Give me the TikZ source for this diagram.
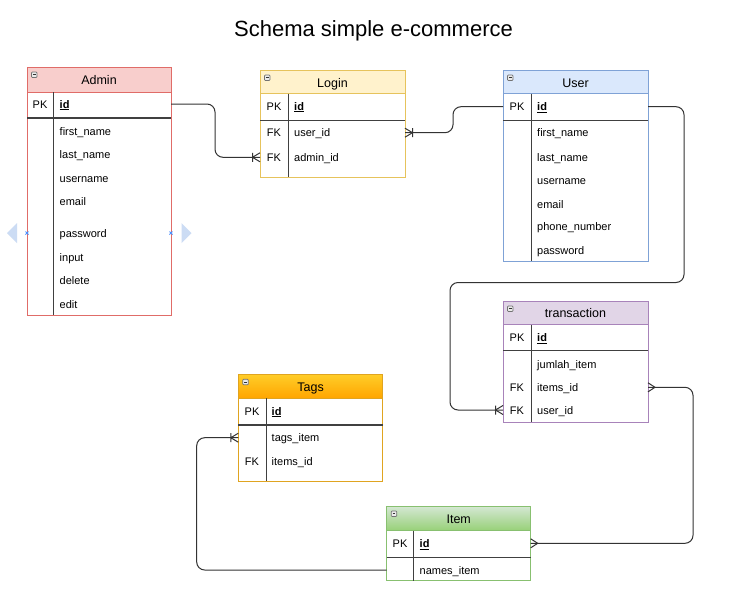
\documentclass[tikz,border=0pt]{standalone}
\usepackage{fontspec}
\setmainfont{Liberation Sans}
\usetikzlibrary{calc}
\definecolor{adminF}{HTML}{F8CECC}\definecolor{adminB}{HTML}{E06C68}
\definecolor{loginF}{HTML}{FFF2CC}\definecolor{loginB}{HTML}{E6C35C}
\definecolor{userF}{HTML}{DAE8FC}\definecolor{userB}{HTML}{7FA2D6}
\definecolor{transF}{HTML}{E1D5E7}\definecolor{transB}{HTML}{A883BA}
\definecolor{tagsT}{HTML}{FFCD28}\definecolor{tagsBo}{HTML}{FFA500}\definecolor{tagsB}{HTML}{E0A420}
\definecolor{itemT}{HTML}{D5E8D4}\definecolor{itemBo}{HTML}{97D077}\definecolor{itemB}{HTML}{88C070}
\definecolor{connC}{HTML}{333333}
\definecolor{artL}{HTML}{CCDCF4}\definecolor{artX}{HTML}{4D90FE}
\tikzset{
  tblbox/.style={rectangle, anchor=north west, fill=white, inner sep=0pt, outer sep=0pt, line width=1pt},
  tblhdr/.style={rectangle, anchor=north west, inner sep=0pt, outer sep=0pt, line width=1pt},
  hdrtxt/.style={inner sep=0pt, font=\fontsize{12.5}{14}\selectfont, text height=9pt, text depth=0pt},
  fld/.style={inner sep=0pt, anchor=west, font=\fontsize{11}{13}\selectfont, text height=8pt, text depth=0pt},
  keytxt/.style={inner sep=0pt, font=\fontsize{11}{13}\selectfont, text height=8pt, text depth=0pt},
  pkline/.style={draw=black!75, line width=1.2pt},
  divline/.style={draw=black!75, line width=1pt},
  conn/.style={draw=connC, line width=1pt, rounded corners=8pt},
  ermark/.style={draw=connC, line width=1pt},
  pics/onemany/.style={code={\draw[ermark] (0,-4.5) -- (7.5,0) -- (0,4.5) (7.5,-4.5) -- (7.5,4.5);}},
  pics/manymark/.style={code={\draw[ermark] (0,-4.5) -- (7,0) -- (0,4.5);}},
  pics/minusicon/.style={code={\draw[fill=black!8, draw=black!55, line width=0.7pt, rounded corners=0.8pt] (4.5,5) rectangle (10,10.5); \draw[line width=1pt, black!80] (5.8,7.75) -- (8.7,7.75);}},
}
\begin{document}
\begin{tikzpicture}[x=1pt, y=-1pt]
\useasboundingbox (0,0) rectangle (741,608);
\fill[white] (0,0) rectangle (741,608);

\node[inner sep=0pt, font=\fontsize{22}{26}\selectfont, text height=16pt, text depth=0pt] (title) at (373.5,28.5) {Schema simple e-commerce};

% ---------- Admin ----------
\node[tblbox, draw=adminB, minimum width=144pt, minimum height=248pt] (admin) at (27,67) {};
\node[tblhdr, fill=adminF, draw=adminB, minimum width=144pt, minimum height=25pt] (adminH) at (27,67) {};
\node[hdrtxt] (adminT) at ($(adminH.center)+(0,0.5)$) {Admin};
\pic at (adminH.north west) {minusicon};
\draw[divline] (53,92) -- (53,315);
\draw[pkline] (27,118) -- (171,118);
\node[keytxt] (akpk) at (40,104) {PK};
\node[fld] (aid) at (59.5,104) {\underline{\textbf{id}}};
\node[fld] (a1) at (59.5,131.5) {first\_name};
\node[fld] (a2) at (59.5,154.5) {last\_name};
\node[fld] (a3) at (59.5,178) {username};
\node[fld] (a4) at (59.5,201) {email};
\node[fld] (a5) at (59.5,233) {password};
\node[fld] (a6) at (59.5,257) {input};
\node[fld] (a7) at (59.5,280.5) {delete};
\node[fld] (a8) at (59.5,304) {edit};

% hover artifacts
\fill[artL] (17,223) -- (7,233) -- (17,243) -- cycle;
\fill[artL] (181.5,223) -- (191.5,233) -- (181.5,243) -- cycle;
\draw[artX, line width=0.8pt] (25.5,231.5) -- (28.5,234.5) (25.5,234.5) -- (28.5,231.5);
\draw[artX, line width=0.8pt] (169.5,231.5) -- (172.5,234.5) (169.5,234.5) -- (172.5,231.5);

% ---------- Login ----------
\node[tblbox, draw=loginB, minimum width=145pt, minimum height=107pt] (login) at (260,70) {};
\node[tblhdr, fill=loginF, draw=loginB, minimum width=145pt, minimum height=23.5pt] (loginH) at (260,70) {};
\node[hdrtxt] (loginT) at ($(loginH.center)+(0,1)$) {Login};
\pic at (loginH.north west) {minusicon};
\draw[divline] (288,93.5) -- (288,177);
\draw[pkline] (260,120.5) -- (405,120.5);
\node[keytxt] (lkpk) at (274,106) {PK};
\node[fld] (lid) at (294,106) {\underline{\textbf{id}}};
\node[keytxt] (lkf1) at (274,132.7) {FK};
\node[fld] (luid) at (294,132.7) {user\_id};
\node[keytxt] (lkf2) at (274,157.3) {FK};
\node[fld] (ladm) at (294,157.3) {admin\_id};

% ---------- User ----------
\node[tblbox, draw=userB, minimum width=145pt, minimum height=191pt] (user) at (503,70) {};
\node[tblhdr, fill=userF, draw=userB, minimum width=145pt, minimum height=23.5pt] (userH) at (503,70) {};
\node[hdrtxt] (userT) at ($(userH.center)+(0,1)$) {User};
\pic at (userH.north west) {minusicon};
\draw[divline] (531,93.5) -- (531,261);
\draw[pkline] (503,120.5) -- (648,120.5);
\node[keytxt] (ukpk) at (517,106.7) {PK};
\node[fld] (uid) at (537,106.7) {\underline{\textbf{id}}};
\node[fld] (u1) at (537,132.7) {first\_name};
\node[fld] (u2) at (537,157.3) {last\_name};
\node[fld] (u3) at (537,180) {username};
\node[fld] (u4) at (537,204) {email};
\node[fld] (u5) at (537,226.7) {phone\_number};
\node[fld] (u6) at (537,250) {password};

% ---------- transaction ----------
\node[tblbox, draw=transB, minimum width=145pt, minimum height=121pt] (trans) at (503,301) {};
\node[tblhdr, fill=transF, draw=transB, minimum width=145pt, minimum height=23.5pt] (transH) at (503,301) {};
\node[hdrtxt] (transT) at ($(transH.center)+(0,0.5)$) {transaction};
\pic at (transH.north west) {minusicon};
\draw[divline] (531,324.5) -- (531,422);
\draw[pkline] (503,350.5) -- (648,350.5);
\node[keytxt] (tkpk) at (517,337.7) {PK};
\node[fld] (tid) at (537,337.7) {\underline{\textbf{id}}};
\node[fld] (t1) at (537,364.3) {jumlah\_item};
\node[keytxt] (tkf1) at (517,387.3) {FK};
\node[fld] (titm) at (537,387.3) {items\_id};
\node[keytxt] (tkf2) at (517,410) {FK};
\node[fld] (tuid) at (537,410) {user\_id};

% ---------- Tags ----------
\node[tblbox, draw=tagsB, minimum width=144.5pt, minimum height=106.7pt] (tags) at (238.3,374.3) {};
\node[tblhdr, top color=tagsT, bottom color=tagsBo, draw=tagsB, minimum width=144.5pt, minimum height=24pt] (tagsH) at (238.3,374.3) {};
\node[hdrtxt] (tagsT) at ($(tagsH.center)+(0,0.5)$) {Tags};
\pic at (tagsH.north west) {minusicon};
\draw[divline] (266,398.3) -- (266,481);
\draw[pkline] (238.3,425) -- (382.8,425);
\node[keytxt] (gkpk) at (252,411) {PK};
\node[fld] (gid) at (271.5,411) {\underline{\textbf{id}}};
\node[fld] (ttag) at (271.5,437.7) {tags\_item};
\node[keytxt] (gkf1) at (252,461.7) {FK};
\node[fld] (gitm) at (271.5,461.7) {items\_id};

% ---------- Item ----------
\node[tblbox, draw=itemB, minimum width=144pt, minimum height=74.7pt] (item) at (386.7,506) {};
\node[tblhdr, top color=itemT, bottom color=itemBo, draw=itemB, minimum width=144pt, minimum height=24.7pt] (itemH) at (386.7,506) {};
\node[hdrtxt] (itemT) at ($(itemH.center)+(0,1)$) {Item};
\pic at (itemH.north west) {minusicon};
\draw[divline] (413.3,530.7) -- (413.3,580.7);
\draw[pkline] (386.7,557.3) -- (530.7,557.3);
\node[keytxt] (ikpk) at (400,543.3) {PK};
\node[fld] (iid) at (419.5,543.3) {\underline{\textbf{id}}};
\node[fld] (inam) at (419.5,570) {names\_item};

% ---------- connectors ----------
\draw[conn] (admin.east |- aid) -- ++(44,0) |- (login.west |- ladm);
\pic[rotate=180] at (login.west |- ladm) {onemany};

\draw[conn] (login.east |- luid) -- ++(48,0) |- (user.west |- uid);
\pic at (login.east |- luid) {onemany};

\coordinate (c3) at (450,282.5);
\draw[conn] (user.east |- uid) -- ++(36,0) |- (c3) |- (trans.west |- tuid);
\pic[rotate=180] at (trans.west |- tuid) {onemany};

\draw[conn] (trans.east |- titm) -- ++(45,0) |- (item.east |- iid);
\pic at (trans.east |- titm) {manymark};
\pic at (item.east |- iid) {manymark};

\draw[conn] (item.west |- inam) -- ++(-190,0) |- (tags.west |- ttag);
\pic[rotate=180] at (tags.west |- ttag) {onemany};
\end{tikzpicture}
\end{document}
